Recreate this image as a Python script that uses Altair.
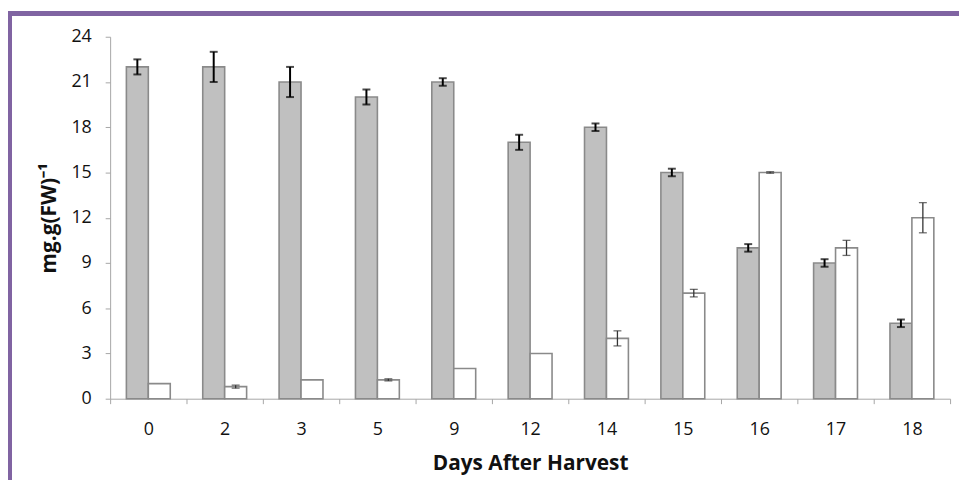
import altair as alt
import pandas as pd

days = ["0", "2", "3", "5", "9", "12", "14", "15", "16", "17", "18"]
series_names = ["Series1", "Series2"]
series1 = [22, 22, 21, 20, 21, 17, 18, 15, 10, 9, 5]
err1 = [0.5, 1.0, 1.0, 0.5, 0.25, 0.5, 0.25, 0.25, 0.25, 0.25, 0.25]
series2 = [1.0, 0.8, 1.25, 1.25, 2.0, 3.0, 4.0, 7.0, 15.0, 10.0, 12.0]
err2 = [0, 0.1, 0, 0.07, 0, 0, 0.5, 0.25, 0.05, 0.5, 1.0]
y_ticks = [0, 3, 6, 9, 12, 15, 18, 21, 24]

rows = []
for i, d in enumerate(days):
    rows.append({"day": d, "series": series_names[0], "value": series1[i], "err": err1[i]})
    rows.append({"day": d, "series": series_names[1], "value": series2[i], "err": err2[i]})
df = pd.DataFrame(rows)
df["lo"] = df["value"] - df["err"]
df["hi"] = df["value"] + df["err"]

W, H = 847, 365
AXC = "#A6A6A6"
FONT = "Open Sans"

x_enc = alt.X(
    "day:N",
    sort=days,
    scale=alt.Scale(paddingInner=0, paddingOuter=0),
    axis=alt.Axis(
        title="Days After Harvest",
        labelAngle=0,
        tickBand="extent",
        tickSize=5,
        tickColor=AXC,
        domainColor=AXC,
        labelFont=FONT,
        labelFontSize=18,
        labelColor="#111111",
        labelPadding=17,
        titleFont=FONT,
        titleFontSize=21,
        titleFontWeight="bold",
        titleColor="#111111",
        titlePadding=14,
    ),
)
xo_enc = alt.XOffset(
    "series:N",
    scale=alt.Scale(domain=series_names, paddingOuter=0.74, paddingInner=0),
)
y_scale = alt.Scale(domain=[0, 24], nice=False)

base = alt.Chart(df)

bars = base.mark_bar(stroke="#8A8A8A", strokeWidth=1.6).encode(
    x=x_enc,
    xOffset=xo_enc,
    y=alt.Y(
        "value:Q",
        scale=y_scale,
        axis=alt.Axis(
            title="mg.g(FW)⁻¹",
            values=y_ticks,
            grid=False,
            tickSize=5,
            tickColor=AXC,
            domainColor=AXC,
            labelFont=FONT,
            labelFontSize=18,
            labelColor="#111111",
            labelPadding=14,
            titleFont=FONT,
            titleFontSize=21,
            titleFontWeight="bold",
            titleColor="#111111",
            titlePadding=12,
        ),
    ),
    color=alt.Color(
        "series:N",
        scale=alt.Scale(domain=series_names, range=["#C0C0C0", "#FFFFFF"]),
        legend=None,
    ),
)


def err_layers(name, color, width):
    b = base.transform_filter(
        (alt.datum.series == name) & (alt.datum.err > 0)
    )
    rule = b.mark_rule(color=color, strokeWidth=width).encode(
        x=alt.X("day:N", sort=days),
        xOffset=xo_enc,
        y=alt.Y("lo:Q", scale=y_scale),
        y2="hi:Q",
    )
    cap_lo = b.mark_tick(color=color, thickness=width, size=8, orient="horizontal").encode(
        x=alt.X("day:N", sort=days),
        xOffset=xo_enc,
        y=alt.Y("lo:Q", scale=y_scale),
    )
    cap_hi = b.mark_tick(color=color, thickness=width, size=8, orient="horizontal").encode(
        x=alt.X("day:N", sort=days),
        xOffset=xo_enc,
        y=alt.Y("hi:Q", scale=y_scale),
    )
    return [rule, cap_lo, cap_hi]


PURPLE = "#8064A2"
frame_left = alt.Chart(df).mark_rule(color=PURPLE, strokeWidth=4).encode(
    x=alt.value(-101), y=alt.value(-25), y2=alt.value(470)
)
frame_top = alt.Chart(df).mark_rule(color=PURPLE, strokeWidth=4.5).encode(
    x=alt.value(-103), x2=alt.value(860), y=alt.value(-23.25)
)

chart = alt.layer(
    bars,
    *err_layers(series_names[0], "#000000", 2),
    *err_layers(series_names[1], "#333333", 1.3),
    frame_left,
    frame_top,
).properties(
    width=W,
    height=H,
    padding={"left": 103, "top": 27, "right": 9, "bottom": 80},
    autosize=alt.AutoSizeParams(type="none"),
    background="white",
).configure_view(strokeWidth=0)

chart.save("out.html", embed_options={"renderer": "svg", "actions": False})
